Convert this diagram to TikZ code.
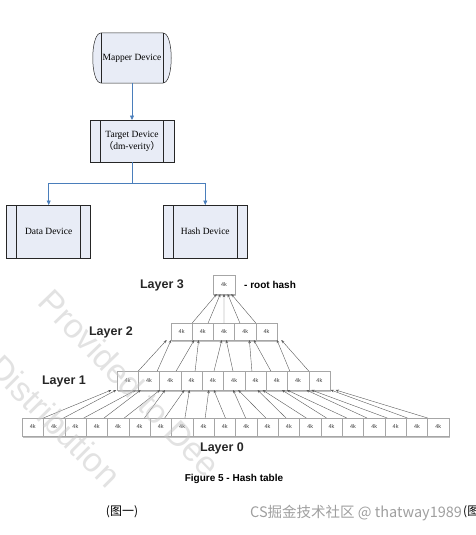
\documentclass[tikz,border=0pt]{standalone}
\usepackage{fontspec}
\setmainfont{Liberation Serif}
\newfontfamily\arialf{Liberation Sans}
\newfontfamily\cjk{Noto Sans CJK SC}
\usetikzlibrary{arrows.meta,calc,backgrounds,shadows}
\definecolor{devfill}{HTML}{E8ECF6}
\definecolor{devblue}{HTML}{4A7EBB}
\definecolor{treeline}{HTML}{5A5A5A}
\begin{document}
\begin{tikzpicture}[x=1pt,y=-1pt,
  devbox/.style={draw=black!85, fill=devfill, line width=0.5pt, inner sep=0pt, outer sep=0pt,
    minimum width=84pt, align=center, font=\fontsize{9.5}{12}\selectfont},
  devline/.style={draw=black!85, line width=0.5pt},
  bluearr/.style={draw=devblue, line width=0.7pt, -{Triangle[length=4.5pt,width=4pt]}},
  blueline/.style={draw=devblue, line width=0.7pt},
  hbox/.style={draw=gray!70, fill=white, line width=0.4pt, inner sep=0pt, outer sep=0pt,
    anchor=north west, font=\arialf\fontsize{5.5}{6}\selectfont, text=gray!45!black,
    drop shadow={shadow xshift=1.2pt, shadow yshift=-1.6pt, fill=gray!60, opacity=0.8}},
  tarr/.style={draw=treeline, line width=0.4pt, -{Stealth[length=3.2pt,width=2.6pt]}},
  lab/.style={font=\arialf\bfseries\fontsize{12.5}{14}\selectfont, text=black!85},
  wmark/.style={font=\arialf\fontsize{34}{36}\selectfont, text=gray!45, opacity=0.5}]
\useasboundingbox (0,0) rectangle (475,535);

% ---------- top diagram ----------
\node[inner sep=0pt, outer sep=0pt, minimum width=62pt, minimum height=50pt,
      font=\fontsize{9.5}{12}\selectfont] (mapper) at (132,58) {Mapper Device};
\begin{scope}[on background layer]
\draw[devline, fill=devfill] (mapper.north west) -- (mapper.north east)
  .. controls ($(mapper.north east)+(11,0)$) and ($(mapper.south east)+(11,0)$) .. (mapper.south east)
  -- (mapper.south west)
  .. controls ($(mapper.south west)+(-11,0)$) and ($(mapper.north west)+(-11,0)$) .. (mapper.north west) -- cycle;
\draw[devline] (mapper.north west) -- (mapper.south west);
\draw[devline] (mapper.north east) -- (mapper.south east);
\end{scope}

\node[devbox, minimum height=42pt] (target) at (132,141) {Target Device\\{\cjk （}dm-verity{\cjk ）}};
\node[devbox, minimum height=53pt] (data) at (48.7,231.5) {Data Device};
\node[devbox, minimum height=53pt] (hash) at (205.3,231.5) {Hash Device};
\foreach \n/\d in {target/10.5, data/10, hash/10}{
  \draw[devline] ($(\n.north west)+(\d,0)$) -- ($(\n.south west)+(\d,0)$);
  \draw[devline] ($(\n.north east)+(-\d,0)$) -- ($(\n.south east)+(-\d,0)$);
}
\draw[bluearr] (mapper.south) -- (target.north);
\draw[blueline] (target.south) -- ++(0,21) coordinate (junc);
\draw[bluearr] (junc) -| (data.north);
\draw[bluearr] (junc) -| (hash.north);

% ---------- hash tree ----------
\foreach \j in {0,...,19}
  \node[hbox, minimum width=21.35pt, minimum height=18pt] (A\j) at ({22+21.35*\j},418) {4k};
\foreach \j in {0,...,9}
  \node[hbox, minimum width=21.3pt, minimum height=19pt] (B\j) at ({117+21.3*\j},371) {4k};
\foreach \j in {0,...,4}
  \node[hbox, minimum width=21.2pt, minimum height=17pt] (C\j) at ({171+21.2*\j},323) {4k};
\node[hbox, minimum width=22pt, minimum height=19pt] (R) at (213,275) {4k};

\foreach \j in {0,...,19}{
  \pgfmathtruncatemacro\pp{floor(\j/2)}
  \pgfmathsetmacro\fa{1-\j/19}
  \pgfmathsetmacro\fb{-0.15+1.3*\pp/9}
  \pgfmathsetmacro\sh{mod(\j,2)==0 ? -2.5 : 2.5}
  \draw[tarr] ($(A\j.north west)!\fa!(A\j.north east)$) -- ($(B\pp.south west)!\fb!(B\pp.south east)+(\sh,0)$);
}
\foreach \j in {0,...,9}{
  \pgfmathtruncatemacro\pp{floor(\j/2)}
  \pgfmathsetmacro\fa{1-\j/9}
  \pgfmathsetmacro\fb{-0.1+1.2*\pp/4}
  \pgfmathsetmacro\sh{mod(\j,2)==0 ? -2.2 : 2.2}
  \draw[tarr] ($(B\j.north west)!\fa!(B\j.north east)$) -- ($(C\pp.south west)!\fb!(C\pp.south east)+(\sh,0)$);
}
\foreach \k in {0,...,4}{
  \pgfmathsetmacro\fa{1-\k/4}
  \draw[tarr] ($(C\k.north west)!\fa!(C\k.north east)$) -- ($(R.south)+({(\k-2)*3.6},0)$);
}

\node[lab] (l3) at (162,285) {Layer 3};
\node[lab] (l2) at (111,332) {Layer 2};
\node[lab] (l1) at (64,381) {Layer 1};
\node[lab] (l0) at (222,448) {Layer 0};
\node[anchor=west, inner sep=0pt, font=\arialf\bfseries\fontsize{10}{12}\selectfont] (rh) at ($(R.east)+(9,0)$) {- root hash};
\node[font=\arialf\bfseries\fontsize{10}{12}\selectfont] (cap) at (234,479) {Figure 5 - Hash table};

\node[font=\cjk\fontsize{12}{14}\selectfont] (fig1) at (122,512) {(图一)};
\node[anchor=west, inner sep=0pt, font=\cjk\fontsize{14.5}{16}\selectfont, text=gray!75] (wm) at (250,513) {CS掘金技术社区 @ thatway1989};
\node[anchor=west, inner sep=0pt, font=\cjk\fontsize{12}{14}\selectfont] (fig2) at (463,512) {(图二)};

% ---------- diagonal watermark ----------
\node[wmark, rotate=-46] (wm1) at (130,383) {Provided to Dee};
\node[wmark, rotate=-45] (wm2) at (55,421) {Distribution};
\end{tikzpicture}
\end{document}
